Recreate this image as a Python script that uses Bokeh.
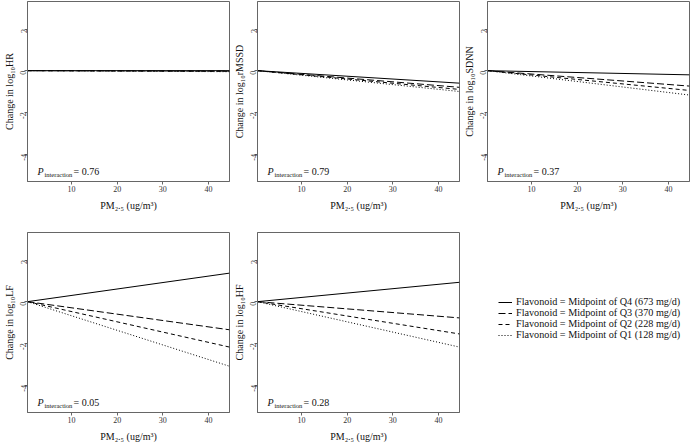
import numpy as np
from bokeh.plotting import figure
from bokeh.layouts import gridplot
from bokeh.models import Range1d, FixedTicker, Label, Legend, LegendItem
from bokeh.embed import file_html
from bokeh.resources import INLINE

# ---------------- data ----------------
pm25 = [0.35, 44.6]  # PM2.5 range (ug/m3)
quartiles = ["Q4 (673 mg/d)", "Q3 (370 mg/d)", "Q2 (228 mg/d)", "Q1 (128 mg/d)"]
legend_labels = ["Flavonoid = Midpoint of " + q for q in quartiles]
outcomes = ["HR", "rMSSD", "SDNN", "LF", "HF"]
p_interaction = ["0.76", "0.79", "0.37", "0.05", "0.28"]
x_ticks = [10, 20, 30, 40]
y_ticks = [-4, -2, 0, 2]

# change in log10 outcome at lowest / highest PM2.5, for Q4, Q3, Q2, Q1
hr_q4 = [0.0, 0.0]
hr_q3 = [0.0, -0.02]
hr_q2 = [0.0, -0.03]
hr_q1 = [0.0, -0.05]
rmssd_q4 = [0.0, -0.60]
rmssd_q3 = [0.0, -0.80]
rmssd_q2 = [0.0, -0.90]
rmssd_q1 = [0.0, -1.00]
sdnn_q4 = [0.0, -0.20]
sdnn_q3 = [0.0, -0.74]
sdnn_q2 = [0.0, -0.95]
sdnn_q1 = [0.0, -1.17]
lf_q4 = [0.0, 1.37]
lf_q3 = [0.0, -1.35]
lf_q2 = [0.0, -2.18]
lf_q1 = [0.0, -3.10]
hf_q4 = [0.0, 0.93]
hf_q3 = [0.0, -0.78]
hf_q2 = [0.0, -1.55]
hf_q1 = [0.0, -2.18]

series = {
    "HR": [hr_q4, hr_q3, hr_q2, hr_q1],
    "rMSSD": [rmssd_q4, rmssd_q3, rmssd_q2, rmssd_q1],
    "SDNN": [sdnn_q4, sdnn_q3, sdnn_q2, sdnn_q1],
    "LF": [lf_q4, lf_q3, lf_q2, lf_q1],
    "HF": [hf_q4, hf_q3, hf_q2, hf_q1],
}

# ---------------- styles ----------------
FONT = "Liberation Serif"
DASHES = ["solid", "7 3", "4 3", "1 2"]
FRAME = "#666666"
W = 230
LEFT, RIGHT, BOTTOM = 26, 1, 34
FRAME_H = 180
T1, T2 = 1, 17
H1 = T1 + FRAME_H + BOTTOM
H2 = T2 + FRAME_H + BOTTOM


def make_panel(name, pval, height, top):
    p = figure(width=W, height=height,
               x_range=Range1d(0.35, 44.6), y_range=Range1d(-5.32, 3.32),
               output_backend="svg", toolbar_location=None,
               min_border_left=LEFT, min_border_right=RIGHT,
               min_border_top=top, min_border_bottom=BOTTOM)
    p.xgrid.visible = False
    p.ygrid.visible = False
    p.outline_line_color = FRAME
    p.outline_line_width = 1
    p.background_fill_color = "white"
    for ax in (p.xaxis[0], p.yaxis[0]):
        ax.axis_line_color = FRAME
        ax.major_tick_line_color = FRAME
        ax.major_tick_out = 3
        ax.major_tick_in = 0
        ax.minor_tick_line_color = None
        ax.major_label_text_font = FONT
        ax.major_label_text_font_size = "8px"
        ax.major_label_text_color = "#333333"
        ax.major_label_standoff = 1
        ax.axis_label_text_font = FONT
        ax.axis_label_text_font_size = "10px"
        ax.axis_label_text_font_style = "normal"
        ax.axis_label_text_color = "#111111"
    p.xaxis.axis_label_standoff = 5
    p.yaxis.axis_label_standoff = 0
    p.xaxis.ticker = FixedTicker(ticks=x_ticks)
    p.yaxis.ticker = FixedTicker(ticks=y_ticks)
    p.yaxis.major_label_overrides = {t: str(t) for t in y_ticks}
    p.yaxis.major_label_orientation = np.pi / 2
    p.xaxis.axis_label = "PM\u2082.\u2085 (ug/m\u00b3)"
    p.yaxis.axis_label = "Change in log\u2081\u2080" + name

    for vals, dash in zip(series[name], DASHES):
        p.line(pm25, vals, line_color="black", line_width=1, line_dash=dash)

    p.add_layout(Label(x=10, y=10, x_units="screen", y_units="screen", text="P",
                       text_font=FONT, text_font_style="italic", text_font_size="10px",
                       text_baseline="middle", text_color="#111111"))
    p.add_layout(Label(x=17, y=7, x_units="screen", y_units="screen", text="interaction",
                       text_font=FONT, text_font_size="6.5px",
                       text_baseline="middle", text_color="#111111"))
    p.add_layout(Label(x=46, y=10, x_units="screen", y_units="screen", text="= " + pval,
                       text_font=FONT, text_font_size="10px",
                       text_baseline="middle", text_color="#111111"))
    return p


panels = []
for i, (name, pval) in enumerate(zip(outcomes, p_interaction)):
    if i < 3:
        panels.append(make_panel(name, pval, H1, T1))
    else:
        panels.append(make_panel(name, pval, H2, T2))

# legend panel (its lines lie outside its visible ranges; only the legend shows)
pl = figure(width=W, height=H2, x_range=Range1d(1000, 1001), y_range=Range1d(1000, 1001),
            output_backend="svg", toolbar_location=None,
            min_border_left=LEFT, min_border_top=T2, min_border_right=RIGHT,
            min_border_bottom=BOTTOM)
pl.axis.visible = False
pl.xgrid.visible = False
pl.ygrid.visible = False
pl.outline_line_color = None
items = []
for lab, vals, dash in zip(legend_labels, series["LF"], DASHES):
    r = pl.line(x=pm25, y=vals, line_color="black", line_width=1, line_dash=dash)
    items.append(LegendItem(label=lab, renderers=[r]))
leg = Legend(items=items, location=(11, 72), margin=0, padding=0,
             glyph_width=14, glyph_height=10, label_height=10, spacing=0,
             label_standoff=4, label_text_font=FONT, label_text_font_size="10.2px",
             label_text_color="#111111", border_line_color=None,
             background_fill_alpha=0)
pl.add_layout(leg)

grid = gridplot([[panels[0], panels[1], panels[2]], [panels[3], panels[4], pl]],
                toolbar_location=None)

open("out.html", "w").write(file_html(grid, INLINE))
